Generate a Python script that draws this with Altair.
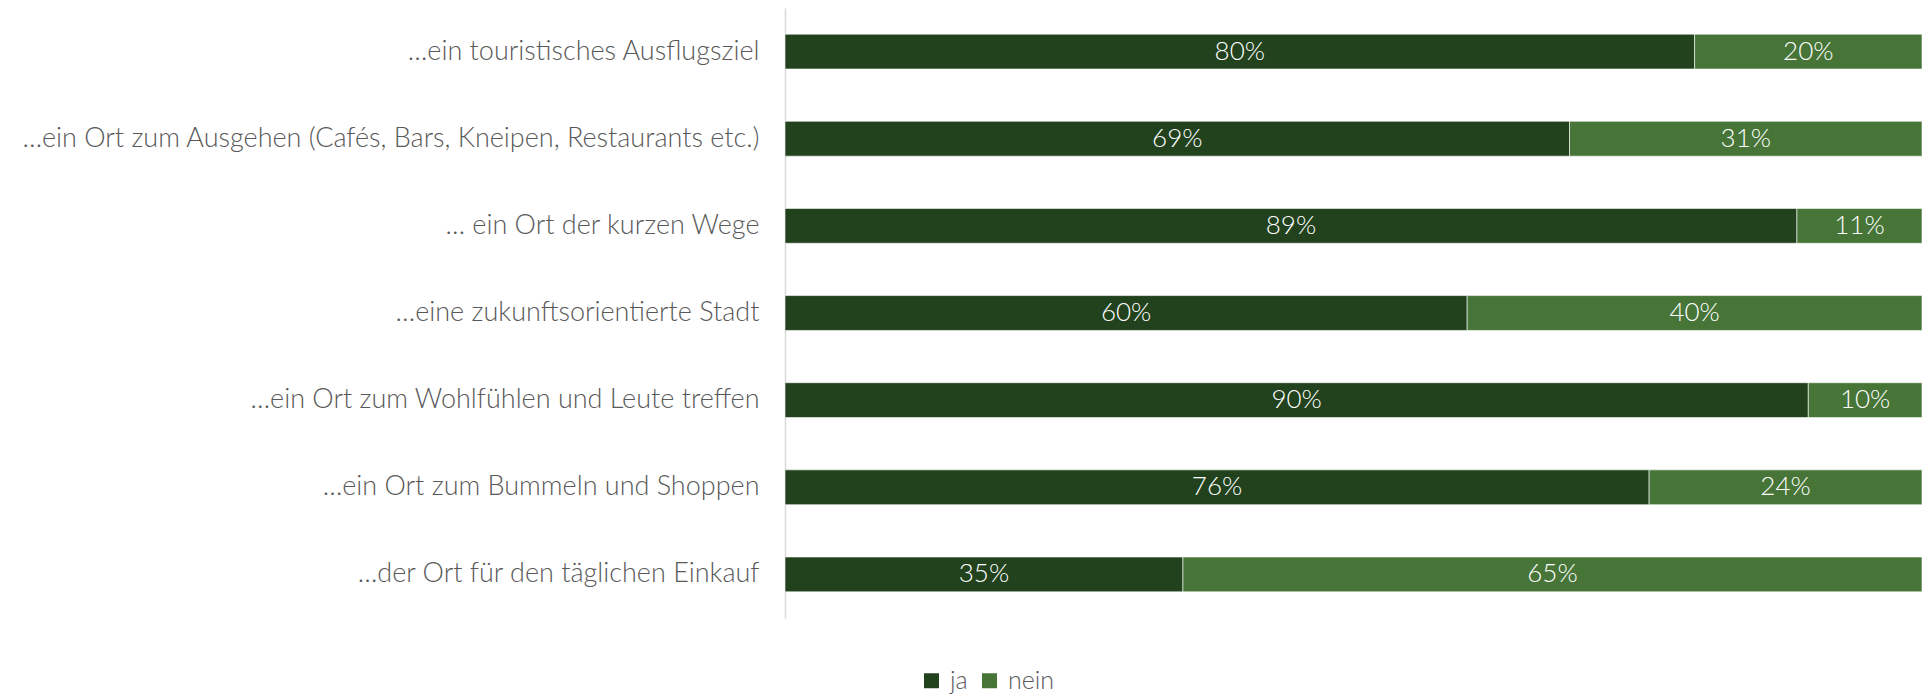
import altair as alt
import pandas as pd

categories = [
    "…ein touristisches Ausflugsziel",
    "…ein Ort zum Ausgehen (Cafés, Bars, Kneipen, Restaurants etc.)",
    "… ein Ort der kurzen Wege",
    "…eine zukunftsorientierte Stadt",
    "…ein Ort zum Wohlfühlen und Leute treffen",
    "…ein Ort zum Bummeln und Shoppen",
    "…der Ort für den täglichen Einkauf",
]
ja = [80, 69, 89, 60, 90, 76, 35]
nein = [20, 31, 11, 40, 10, 24, 65]
series = ["ja", "nein"]
colors = ["#21421c", "#467537"]

rows = []
for c, a, b in zip(categories, ja, nein):
    rows.append({"cat": c, "serie": "ja", "order": 0, "value": a})
    rows.append({"cat": c, "serie": "nein", "order": 1, "value": b})
df = pd.DataFrame(rows)

FONT = "Lato"
base = alt.Chart(df).transform_stack(
    stack="value", groupby=["cat"], as_=["start", "end"],
    sort=[alt.SortField("order", "ascending")]
).transform_calculate(
    mid="(datum.start + datum.end) / 2",
    lbl="datum.value + '%'"
)

y_enc = alt.Y("cat:N", sort=categories, title=None,
              scale=alt.Scale(paddingInner=0.6, paddingOuter=0.3),
              axis=alt.Axis(labelFont=FONT, labelFontSize=27, labelFontWeight=300,
                            labelColor="#595959", labelPadding=26, ticks=False,
                            domainColor="#d9d9d9", domainWidth=1.5, labelLimit=1000))

xscale = alt.Scale(domain=[0, 100], nice=False, zero=True)

bars = base.mark_bar(stroke="white", strokeWidth=0.6).encode(
    x=alt.X("start:Q", scale=xscale, axis=None),
    x2="end:Q",
    y=y_enc,
    color=alt.Color("serie:N", scale=alt.Scale(domain=series, range=colors),
                    legend=alt.Legend(title=None, orient="none", direction="horizontal",
                                      legendX=134, legendY=660, symbolType="square",
                                      symbolSize=225, symbolStrokeWidth=0,
                                      labelFont=FONT, labelFontSize=25, labelFontWeight=300,
                                      labelColor="#595959", columnPadding=9,
                                      labelOffset=6)),
)

texts = base.mark_text(color="white", font=FONT, fontSize=26, fontWeight=300,
                       baseline="middle", align="center").encode(
    x=alt.X("mid:Q", scale=xscale),
    y=alt.Y("cat:N", sort=categories),
    text="lbl:N",
)

chart = (bars + texts).properties(
    width=1137, height=610,
    background="white",
    autosize=alt.AutoSizeParams(type="none"),
    padding={"left": 777, "top": 0, "right": 0, "bottom": 80},
).configure_view(stroke=None)

chart.save("out.html", embed_options={"renderer": "svg", "actions": False})
